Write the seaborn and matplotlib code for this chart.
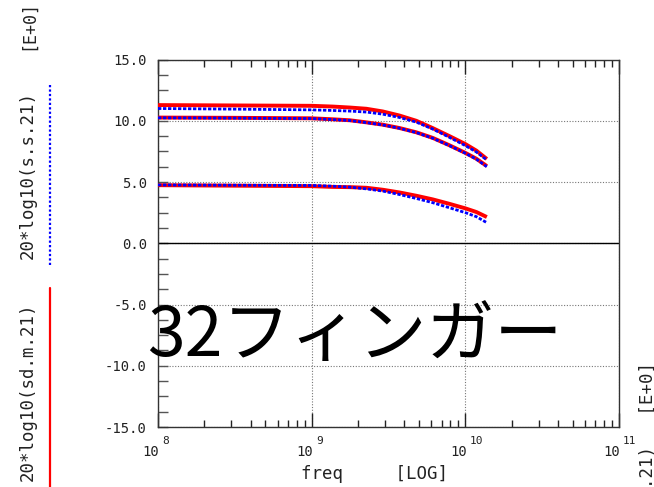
import pandas as pd
import matplotlib
matplotlib.use('Agg')
import matplotlib.pyplot as plt
from matplotlib.lines import Line2D
from matplotlib.ticker import FixedLocator, LogLocator, MultipleLocator, NullFormatter
import seaborn as sns

# frequency sweep (Hz)
freq = [1.0e8, 3.16e8, 1.0e9, 1.37e9, 1.77e9, 2.27e9, 2.9e9, 3.72e9, 4.79e9,
        6.14e9, 7.87e9, 1.0e10, 1.18e10, 1.38e10]

# 20*log10(sd.m.21) -- measured, red solid
sdm_top = [11.28, 11.25, 11.22, 11.16, 11.08, 10.98, 10.76, 10.43, 10.00, 9.40, 8.75, 8.10, 7.56, 6.88]
sdm_mid = [10.26, 10.24, 10.20, 10.12, 10.04, 9.87, 9.68, 9.41, 9.06, 8.60, 8.00, 7.38, 6.90, 6.30]
sdm_low = [4.74, 4.70, 4.66, 4.60, 4.58, 4.53, 4.37, 4.15, 3.88, 3.58, 3.22, 2.85, 2.55, 2.14]

# 20*log10(s.s.21) -- simulated, blue dotted
ss_top = [11.00, 10.95, 10.89, 10.84, 10.79, 10.71, 10.54, 10.27, 9.89, 9.32, 8.65, 7.97, 7.45, 6.80]
ss_mid = [10.24, 10.22, 10.18, 10.10, 10.02, 9.85, 9.66, 9.39, 9.04, 8.57, 7.97, 7.35, 6.86, 6.25]
ss_low = [4.76, 4.74, 4.72, 4.66, 4.58, 4.44, 4.26, 3.98, 3.66, 3.31, 2.90, 2.50, 2.17, 1.68]

decades = [8, 9, 10, 11]
y_major = [-15.0, -10.0, -5.0, 0.0, 5.0, 10.0, 15.0]

sns.set_style('white')
plt.rcParams['font.family'] = ['DejaVu Sans Mono']
mono = '#222222'

fig = plt.figure(figsize=(6.54, 4.87), dpi=100)
ax = fig.add_axes([0.2416, 0.1232, 0.7049, 0.7546])

red_series = [sdm_top, sdm_mid, sdm_low]
blue_series = [ss_top, ss_mid, ss_low]
for vals in red_series:
    df = pd.DataFrame({'freq': freq, 'db': vals})
    sns.lineplot(data=df, x='freq', y='db', ax=ax, color='#ff0000', lw=2.8,
                 solid_capstyle='butt', zorder=3)
for vals in blue_series:
    df = pd.DataFrame({'freq': freq, 'db': vals})
    sns.lineplot(data=df, x='freq', y='db', ax=ax, color='#0000ff', lw=2.0,
                 linestyle=(0, (1.2, 0.6)), zorder=4)

ax.set_xscale('log')
ax.set_xlim(10.0 ** decades[0], 10.0 ** decades[-1])
ax.set_ylim(y_major[0], y_major[-1])

# grid + zero line
ax.grid(True, which='major', color='#777777', linestyle=(0, (1, 1.5)), lw=0.8)
ax.axhline(0, color='black', lw=1.0, zorder=2)

for s in ax.spines.values():
    s.set_color('#333333')
    s.set_linewidth(1.0)

# x ticks: inward on top and bottom
ax.xaxis.set_major_locator(FixedLocator([10.0 ** d for d in decades]))
ax.xaxis.set_minor_locator(LogLocator(base=10, subs=range(2, 10)))
ax.xaxis.set_minor_formatter(NullFormatter())
ax.tick_params(axis='x', which='major', direction='in', length=10, width=1.0,
               top=True, bottom=True, labelbottom=False, color='#222222')
ax.tick_params(axis='x', which='minor', direction='in', length=5, width=1.0,
               top=True, bottom=True, color='#222222')

# y ticks: inward on left only
ax.yaxis.set_major_locator(FixedLocator(y_major))
ax.yaxis.set_minor_locator(MultipleLocator(1.25))
ax.set_yticklabels([f'{v:.1f}' for v in y_major])
ax.tick_params(axis='y', which='both', direction='in', length=7, width=1.0,
               left=True, right=False, color='#555555', pad=8,
               labelsize=10, labelcolor=mono)
ax.set_xlabel('')
ax.set_ylabel('')

# decade labels 10^n
for d in decades:
    ax.annotate('10', xy=(10.0 ** d, 0), xycoords=('data', 'axes fraction'),
                xytext=(1, -18), textcoords='offset points', ha='right', va='center',
                fontsize=10, color=mono)
    ax.annotate(str(d), xy=(10.0 ** d, 0), xycoords=('data', 'axes fraction'),
                xytext=(3, -10), textcoords='offset points', ha='left', va='center',
                fontsize=8, color=mono)

fig.text(0.573, 0.027, 'freq     [LOG]', ha='center', va='center', fontsize=12.5, color=mono)

# left-side trace labels with line keys
fig.text(0.043, 0.948, '[E+0]', rotation=90, ha='center', va='center', fontsize=12, color=mono)
fig.text(0.043, 0.640, '20*log10(s.s.21)', rotation=90, ha='center', va='center',
         fontsize=12.5, color=mono)
fig.text(0.043, 0.195, '20*log10(sd.m.21)', rotation=90, ha='center', va='center',
         fontsize=12.5, color=mono)
fig.add_artist(Line2D([0.0765, 0.0765], [1 - 85 / 487, 1 - 267 / 487], transform=fig.transFigure,
                      color='#0000ff', lw=1.6, linestyle=(0, (1, 1))))
fig.add_artist(Line2D([0.0765, 0.0765], [1 - 288 / 487, 0.0], transform=fig.transFigure,
                      color='#ff0000', lw=1.6))

# right-side label, cut off by the figure edge as in the original printout
fig.text(0.991, 1 - 362 / 487, '20*log10(s.s.21)   [E+0]', rotation=90, ha='center', va='top',
         fontsize=12.5, color=mono)

# big overlay caption
ax.text(0.427, 0.245, '32フィンガー', transform=ax.transAxes, ha='center', va='center',
        fontsize=49, color='black', family=['Noto Sans CJK JP', 'DejaVu Sans'], zorder=6)

fig.savefig('out.png', dpi=100)
